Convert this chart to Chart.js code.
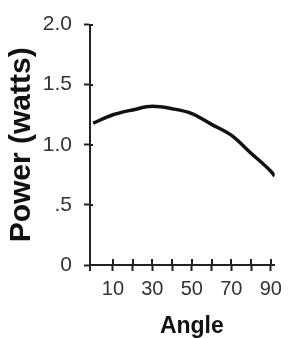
<!DOCTYPE html>
<html>
<head>
<meta charset="utf-8">
<script src="https://cdn.jsdelivr.net/npm/chart.js@4.4.1/dist/chart.umd.min.js"></script>
<style>
  body { margin: 0; background: #fff; }
  canvas { display: block; }
</style>
</head>
<body>
<canvas id="powerChart" width="288" height="339"></canvas>
<script>
// data
const angles = [0, 10, 20, 30, 40, 50, 60, 70, 80, 90, 92];
const power = [1.18, 1.25, 1.29, 1.32, 1.30, 1.26, 1.17, 1.08, 0.93, 0.78, 0.74];
const xLabeled = [10, 30, 50, 70, 90];
const yTickLabels = { 0: "0", 0.5: ".5", 1: "1.0", 1.5: "1.5", 2: "2.0" };
const xTitle = "Angle";

const FONT = "'Liberation Sans', Arial, sans-serif";

// draws the half of each tick that sits inside the plot, so ticks cross the axis,
// and the x title centred under the labelled ticks
const crossTicks = {
  id: "crossTicks",
  afterDraw(chart) {
    const ctx = chart.ctx;
    const xs = chart.scales.x;
    const ys = chart.scales.y;
    const area = chart.chartArea;
    ctx.save();
    ctx.strokeStyle = "#222";
    ctx.lineWidth = 2;
    ctx.beginPath();
    xs.ticks.forEach(function (t) {
      if (t.value <= 0) return;
      const px = Math.round(xs.getPixelForValue(t.value));
      ctx.moveTo(px, area.bottom - 6);
      ctx.lineTo(px, area.bottom);
    });
    ys.ticks.forEach(function (t) {
      const py = Math.round(ys.getPixelForValue(t.value));
      ctx.moveTo(area.left, py);
      ctx.lineTo(area.left + 3, py);
    });
    // y axis runs a little below the x axis
    ctx.moveTo(area.left, area.bottom);
    ctx.lineTo(area.left, area.bottom + 6);
    ctx.stroke();

    const first = xs.getPixelForValue(xLabeled[0]);
    const last = xs.getPixelForValue(xLabeled[xLabeled.length - 1]);
    ctx.fillStyle = "#111";
    ctx.font = "bold 23px " + FONT;
    ctx.textAlign = "center";
    ctx.textBaseline = "alphabetic";
    ctx.fillText(xTitle, (first + last) / 2, xs.bottom - 6);
    ctx.restore();
  },
};

const ctx = document.getElementById("powerChart").getContext("2d");

new Chart(ctx, {
  type: "line",
  data: {
    datasets: [
      {
        data: angles.map(function (a, i) { return { x: a, y: power[i] }; }),
        borderColor: "#111",
        borderWidth: 3.5,
        pointRadius: 0,
        tension: 0.35,
        cubicInterpolationMode: "monotone",
        fill: false,
      },
    ],
  },
  options: {
    responsive: false,
    animation: false,
    layout: { padding: { left: 0, right: 5, top: 19, bottom: 0 } },
    plugins: {
      legend: { display: false },
      tooltip: { enabled: false },
    },
    scales: {
      x: {
        type: "linear",
        min: -1.6,
        max: 92,
        afterFit: function (scale) { scale.height = 74; },
        grid: {
          drawOnChartArea: false,
          drawTicks: true,
          tickLength: 6,
          tickColor: "#222",
          tickWidth: 2,
        },
        border: { color: "#222", width: 2 },
        ticks: {
          stepSize: 10,
          includeBounds: false,
          autoSkip: false,
          maxRotation: 0,
          padding: 6,
          color: "#333",
          font: { family: FONT, size: 20 },
          callback: function (v) {
            if (v <= 0) return null;
            return xLabeled.includes(v) ? String(v) : "";
          },
        },
      },
      y: {
        min: 0,
        max: 2,
        afterFit: function (scale) { scale.width = 90; },
        grid: {
          drawOnChartArea: false,
          drawTicks: true,
          tickLength: 6,
          tickColor: "#222",
          tickWidth: 2,
        },
        border: { color: "#222", width: 2 },
        ticks: {
          stepSize: 0.5,
          padding: 12,
          color: "#333",
          font: { family: FONT, size: 21 },
          callback: function (v) { return yTickLabels[v]; },
        },
        title: {
          display: true,
          text: "Power (watts)",
          color: "#111",
          font: { family: FONT, size: 30, weight: "bold" },
          padding: { top: 4, bottom: 0 },
        },
      },
    },
  },
  plugins: [crossTicks],
});
</script>
</body>
</html>
